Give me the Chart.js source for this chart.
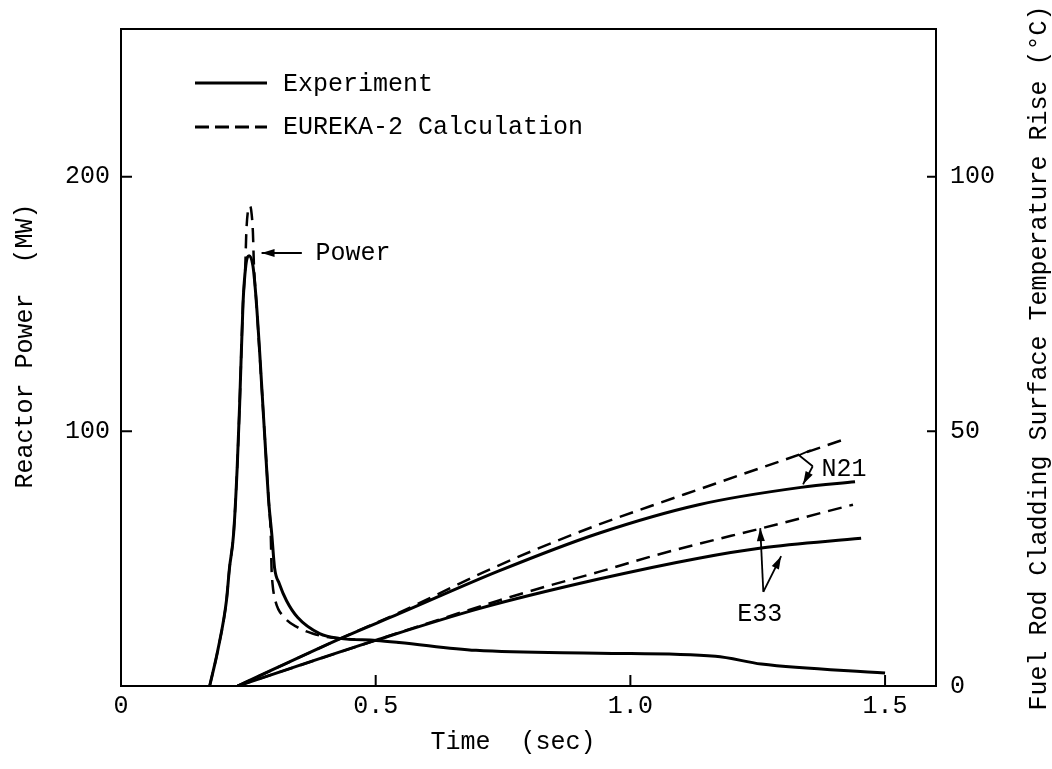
<!DOCTYPE html>
<html>
<head>
<meta charset="utf-8">
<script src="https://cdn.jsdelivr.net/npm/chart.js@4.4.0/dist/chart.umd.min.js"></script>
<style>
  html, body { margin: 0; padding: 0; background: #fff; }
  #wrap { width: 1052px; height: 769px; }
</style>
</head>
<body>
<div id="wrap"><canvas id="grafico" width="1052" height="769"></canvas></div>
<script>
// Potencia del reactor (tiempo en s, potencia en MW)
const potExpT = [0.174, 0.190, 0.207, 0.213, 0.221, 0.228, 0.233, 0.2395, 0.245, 0.2515, 0.259, 0.266, 0.282, 0.290, 0.296, 0.3015, 0.311, 0.325, 0.347, 0.390, 0.429, 0.501, 0.546, 0.697, 0.938, 1.167, 1.257, 1.5];
const potExpMW = [0, 14, 33.5, 46.4, 59.6, 85.3, 111, 150, 165, 169, 165, 150, 98.6, 72.5, 59.6, 46.4, 40.1, 33.5, 26.9, 20.6, 18.7, 17.9, 17.1, 14.0, 12.9, 11.7, 8.6, 5.1];
const potCalcT = [0.174, 0.190, 0.207, 0.213, 0.221, 0.228, 0.233, 0.2395, 0.244, 0.246, 0.2495, 0.2525, 0.2555, 0.259, 0.261, 0.266, 0.282, 0.290, 0.294, 0.2955, 0.2975, 0.303, 0.321, 0.347, 0.376, 0.409, 0.435, 0.46];
const potCalcMW = [0, 14, 33.5, 46.4, 59.6, 85.3, 111, 150, 165, 178, 187, 188.5, 187, 178, 165, 150, 98.6, 72.5, 59.6, 46.4, 40.1, 33.5, 26.9, 23.0, 20.6, 19.1, 18.6, 18.3];

// Temperatura de vaina, barras N21 y E33 (tiempo en s, aumento en °C)
const n21ExpT = [0.229, 0.435, 0.546, 0.742, 0.938, 1.134, 1.335, 1.441];
const n21ExpC = [0, 9.5, 14.2, 22.6, 30.0, 35.6, 39.0, 40.1];
const n21CalcT = [0.229, 0.435, 0.546, 0.709, 0.807, 0.938, 1.036, 1.134, 1.296, 1.422];
const n21CalcC = [0, 9.5, 14.4, 22.2, 26.5, 31.7, 35.2, 38.6, 44.2, 48.5];
const e33ExpT = [0.229, 0.501, 0.703, 0.938, 1.134, 1.257, 1.453];
const e33ExpC = [0, 9.0, 15.2, 21.0, 25.1, 27.1, 29.0];
const e33CalcT = [0.229, 0.501, 0.742, 0.840, 0.938, 1.036, 1.134, 1.251, 1.437];
const e33CalcC = [0, 9.0, 16.8, 19.7, 22.4, 25.3, 27.9, 30.8, 35.6];

// Marcas de los ejes
const xTicks = [0, 0.5, 1.0, 1.5];
const xTickLabels = ["0", "0.5", "1.0", "1.5"];
const potTicks = [100, 200];
const tempTicks = [0, 50, 100];

const fuente = "25px 'Liberation Mono', 'DejaVu Sans Mono', monospace";
const trazo = [14, 8];

function puntos(tiempos, valores) {
    return tiempos.map((t, i) => ({ x: t, y: valores[i] }));
}

function serie(tiempos, valores, eje, discontinua) {
    return {
        data: puntos(tiempos, valores),
        yAxisID: eje,
        borderColor: "#000",
        borderWidth: discontinua ? 2.5 : 3,
        borderDash: discontinua ? trazo : [],
        pointRadius: 0,
        fill: false,
        cubicInterpolationMode: "monotone",
    };
}

// Flecha con punta rellena en (x1, y1)
function flecha(ctx, x0, y0, x1, y1) {
    const ang = Math.atan2(y1 - y0, x1 - x0);
    ctx.beginPath();
    ctx.moveTo(x0, y0);
    ctx.lineTo(x1, y1);
    ctx.stroke();
    ctx.beginPath();
    ctx.moveTo(x1, y1);
    ctx.lineTo(x1 - 13 * Math.cos(ang) + 4 * Math.sin(ang), y1 - 13 * Math.sin(ang) - 4 * Math.cos(ang));
    ctx.lineTo(x1 - 13 * Math.cos(ang) - 4 * Math.sin(ang), y1 - 13 * Math.sin(ang) + 4 * Math.cos(ang));
    ctx.closePath();
    ctx.fill();
}

// Marco, marcas hacia dentro, leyenda, rótulos y títulos de ejes
const decoracion = {
    id: "decoracion",
    afterDraw(chart) {
        const { ctx, chartArea: a, scales: { x, y, y1 } } = chart;
        ctx.save();
        ctx.strokeStyle = "#000";
        ctx.fillStyle = "#000";
        ctx.lineWidth = 2;
        ctx.setLineDash([]);
        ctx.strokeRect(a.left, a.top, a.right - a.left, a.bottom - a.top);

        ctx.beginPath();
        xTicks.slice(1).forEach((v) => {
            const px = x.getPixelForValue(v);
            ctx.moveTo(px, a.bottom);
            ctx.lineTo(px, a.bottom - 11);
        });
        potTicks.forEach((v) => {
            const py = y.getPixelForValue(v);
            ctx.moveTo(a.left, py);
            ctx.lineTo(a.left + 11, py);
        });
        tempTicks.slice(1).forEach((v) => {
            const py = y1.getPixelForValue(v);
            ctx.moveTo(a.right, py);
            ctx.lineTo(a.right - 9, py);
        });
        ctx.stroke();

        ctx.font = fuente;
        ctx.textBaseline = "middle";
        ctx.textAlign = "left";

        // leyenda
        ctx.lineWidth = 3;
        ctx.beginPath();
        ctx.moveTo(195, 83);
        ctx.lineTo(267, 83);
        ctx.stroke();
        ctx.fillText("Experiment", 283, 84);
        ctx.setLineDash([14, 6]);
        ctx.beginPath();
        ctx.moveTo(195, 127);
        ctx.lineTo(267, 127);
        ctx.stroke();
        ctx.setLineDash([]);
        ctx.fillText("EUREKA-2 Calculation", 283, 127);

        // rótulo de potencia
        ctx.lineWidth = 2;
        const pyP = y.getPixelForValue(170);
        flecha(ctx, x.getPixelForValue(0.355), pyP, x.getPixelForValue(0.276), pyP);
        ctx.fillText("Power", x.getPixelForValue(0.382), pyP);

        // rótulo N21
        ctx.lineWidth = 1.8;
        ctx.beginPath();
        ctx.moveTo(x.getPixelForValue(1.354), y.getPixelForValue(92.6));
        ctx.lineTo(x.getPixelForValue(1.331), y.getPixelForValue(90.6));
        ctx.lineTo(x.getPixelForValue(1.358), y.getPixelForValue(86.3));
        ctx.stroke();
        flecha(ctx, x.getPixelForValue(1.358), y.getPixelForValue(86.3), x.getPixelForValue(1.339), y.getPixelForValue(79.2));
        ctx.fillText("N21", x.getPixelForValue(1.375), y.getPixelForValue(84.9));

        // rótulo E33
        const bx = x.getPixelForValue(1.261), by = y.getPixelForValue(37.0);
        flecha(ctx, bx, by, x.getPixelForValue(1.255), y.getPixelForValue(62.0));
        flecha(ctx, bx, by, x.getPixelForValue(1.296), y.getPixelForValue(51.0));
        ctx.textAlign = "center";
        ctx.fillText("E33", x.getPixelForValue(1.254), y.getPixelForValue(28.2));

        // títulos de los ejes
        ctx.fillText("Time  (sec)", 513, 742);
        ctx.save();
        ctx.translate(25, 346);
        ctx.rotate(-Math.PI / 2);
        ctx.fillText("Reactor Power  (MW)", 0, 0);
        ctx.restore();
        ctx.save();
        ctx.translate(1039, 358);
        ctx.rotate(-Math.PI / 2);
        ctx.fillText("Fuel Rod Cladding Surface Temperature Rise (°C)", 0, 0);
        ctx.restore();

        ctx.restore();
    },
};

const tickFont = { family: "'Liberation Mono', 'DejaVu Sans Mono', monospace", size: 25 };

const config = {
    type: "line",
    data: {
        datasets: [
            serie(potExpT, potExpMW, "y", false),
            serie(potCalcT, potCalcMW, "y", true),
            serie(n21ExpT, n21ExpC, "y1", false),
            serie(n21CalcT, n21CalcC, "y1", true),
            serie(e33ExpT, e33ExpC, "y1", false),
            serie(e33CalcT, e33CalcC, "y1", true),
        ],
    },
    options: {
        responsive: false,
        animation: false,
        devicePixelRatio: 1,
        layout: { padding: { top: 24, left: 0, right: 0, bottom: 0 } },
        plugins: { legend: { display: false }, tooltip: { enabled: false } },
        scales: {
            x: {
                type: "linear",
                min: 0,
                max: 1.6,
                grid: { display: false, drawTicks: false },
                border: { display: false },
                afterBuildTicks: (s) => { s.ticks = xTicks.map((v) => ({ value: v })); },
                afterFit: (s) => { s.height = 83; },
                ticks: {
                    font: tickFont,
                    color: "#000",
                    padding: 5,
                    maxRotation: 0,
                    callback: (v) => xTickLabels[xTicks.indexOf(v)],
                },
            },
            y: {
                position: "left",
                min: 0,
                max: 258,
                grid: { display: false, drawTicks: false },
                border: { display: false },
                afterBuildTicks: (s) => { s.ticks = potTicks.map((v) => ({ value: v })); },
                afterFit: (s) => { s.width = 121; },
                ticks: { font: tickFont, color: "#000", padding: 11 },
            },
            y1: {
                position: "right",
                min: 0,
                max: 129,
                grid: { display: false, drawTicks: false },
                border: { display: false },
                afterBuildTicks: (s) => { s.ticks = tempTicks.map((v) => ({ value: v })); },
                afterFit: (s) => { s.width = 116; },
                ticks: { font: tickFont, color: "#000", padding: 14 },
            },
        },
    },
    plugins: [decoracion],
};

new Chart(document.getElementById("grafico").getContext("2d"), config);
</script>
</body>
</html>
